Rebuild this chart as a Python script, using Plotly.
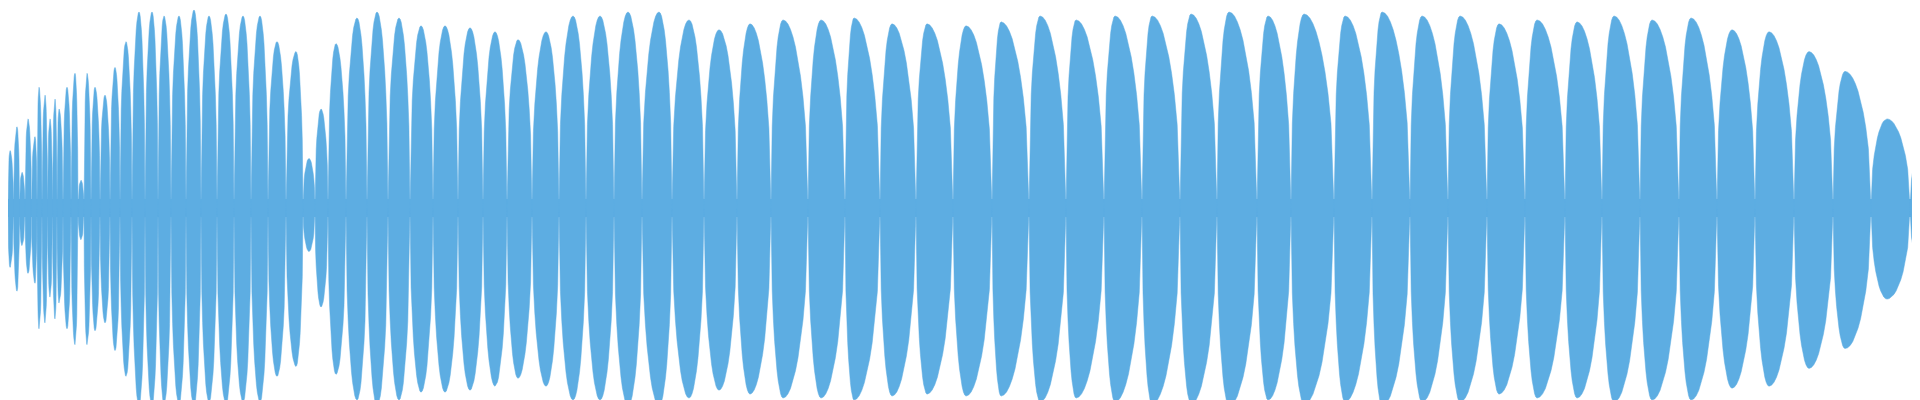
import math
import plotly.graph_objects as go

WAVE_COLOR = "#5DADE2"

# lobe peaks: time position (px-equivalent samples) and positive / negative amplitude
peak_t = [2, 9, 14, 20, 27, 31, 37, 42, 47, 51, 59, 67, 73, 79, 87, 97, 107, 118, 131, 144,
          156, 171, 186, 201, 218, 235, 252, 269, 288, 301, 313, 328, 349, 369, 391, 413, 437,
          462, 487, 510, 538, 565, 592, 620,
          651, 681, 711, 742, 775, 813, 846, 884, 919, 958, 993, 1032, 1068, 1107, 1144, 1183,
          1221, 1260,
          1296, 1337, 1374, 1414, 1452, 1491, 1529, 1569, 1606, 1644, 1683, 1724, 1761, 1801,
          1837, 1879, 1917]
peak_top = [.29, .41, .18, .45, .36, .61, .57, .45, .55, .50, .61, .68, .14, .68, .61, .57, .71,
            .84, .99, .99, .97, .97, 1.0, .97, .98, .97, .97, .84, .79, .25, .50, .83, .96, .99,
            .96, .92, .92, .91, .89, .85, .89, .97, .97, .99,
            .99, .95, .90, .93, .95, .95, .96, .93, .93, .92, .94, .97, .95, .97, .97, .98, .99, .97,
            .98, .97, .99, .97, .97, .93, .95, .94, .97, .95, .96, .90, .89, .79, .69, .45, .33]
peak_bottom = [.30, .42, .19, .33, .38, .61, .58, .45, .56, .48, .61, .69, .16, .69, .62, .58, .72,
               .85, 1.0, 1.0, .99, .99, 1.0, .98, .99, .98, .98, .85, .80, .22, .50, .84, .97, 1.0,
               .97, .93, .93, .92, .90, .86, .90, .97, .97, 1.0,
               1.0, .96, .92, .94, .96, .96, .97, .95, .94, .95, .95, .98, .96, .98, .99, .99, 1.0, .97,
               .99, .98, 1.0, .98, .98, .94, .96, .96, .98, .97, .97, .91, .90, .81, .71, .46, .34]
# boundaries between lobes (quiet points)
edges = [0, 5.5, 11.5, 17, 23.5, 29, 34, 39.5, 44.5, 49, 55, 63, 70, 76, 83, 92, 102, 112, 124,
         137, 150, 163, 178, 193, 209, 226, 243, 260, 278, 295, 307, 320, 338, 359, 380, 402, 425,
         450, 475, 499, 524, 551, 578, 606, 634,
         664, 696, 729, 763, 800, 837, 872, 908, 945, 984, 1021, 1058, 1096, 1134, 1172, 1209, 1249,
         1283, 1326, 1364, 1402, 1440, 1479, 1517, 1557, 1594, 1632, 1671, 1709, 1747, 1786, 1825,
         1863, 1902, 1935]
noise_floor = 0.045

STEPS = 10


def lobe_outline(left, peak, right, amp):
    """x/y of a rounded lobe outline from left edge over the peak to the right edge"""
    px, py = [], []
    for k in range(STEPS + 1):
        s = k / STEPS
        px.append(left + (peak - left) * s)
        py.append(amp * math.sin(math.pi / 2 * s) ** 0.45)
    for k in range(1, STEPS + 1):
        s = 1 - k / STEPS
        px.append(peak + (right - peak) * (k / STEPS))
        py.append(amp * math.sin(math.pi / 2 * s) ** 0.45)
    return px, py


xs, ys = [], []
for i, t in enumerate(peak_t):
    left, right = edges[i], edges[i + 1]
    ux, uy = lobe_outline(left, t, right, peak_top[i])
    lx, ly = lobe_outline(left, t, right, peak_bottom[i])
    xs += ux + lx[::-1] + [None]
    ys += uy + [-v for v in ly[::-1]] + [None]

fig = go.Figure()
fig.add_trace(go.Scatter(x=[0, 1920, 1920, 0, 0], y=[noise_floor, noise_floor, -noise_floor, -noise_floor, noise_floor],
                         fill="toself", fillcolor=WAVE_COLOR, line=dict(width=0), mode="lines",
                         hoverinfo="skip"))
fig.add_trace(go.Scatter(x=xs, y=ys, fill="toself", fillcolor=WAVE_COLOR, mode="lines",
                         line=dict(color=WAVE_COLOR, width=0.5),
                         hoverinfo="skip"))

fig.update_layout(
    width=1920, height=400,
    margin=dict(l=0, r=0, t=0, b=0),
    paper_bgcolor="white", plot_bgcolor="white",
    showlegend=False,
    xaxis=dict(range=[0, 1920], visible=False, fixedrange=True),
    yaxis=dict(range=[-1.01, 1.01], visible=False, fixedrange=True),
)

fig.write_html("out.html")
